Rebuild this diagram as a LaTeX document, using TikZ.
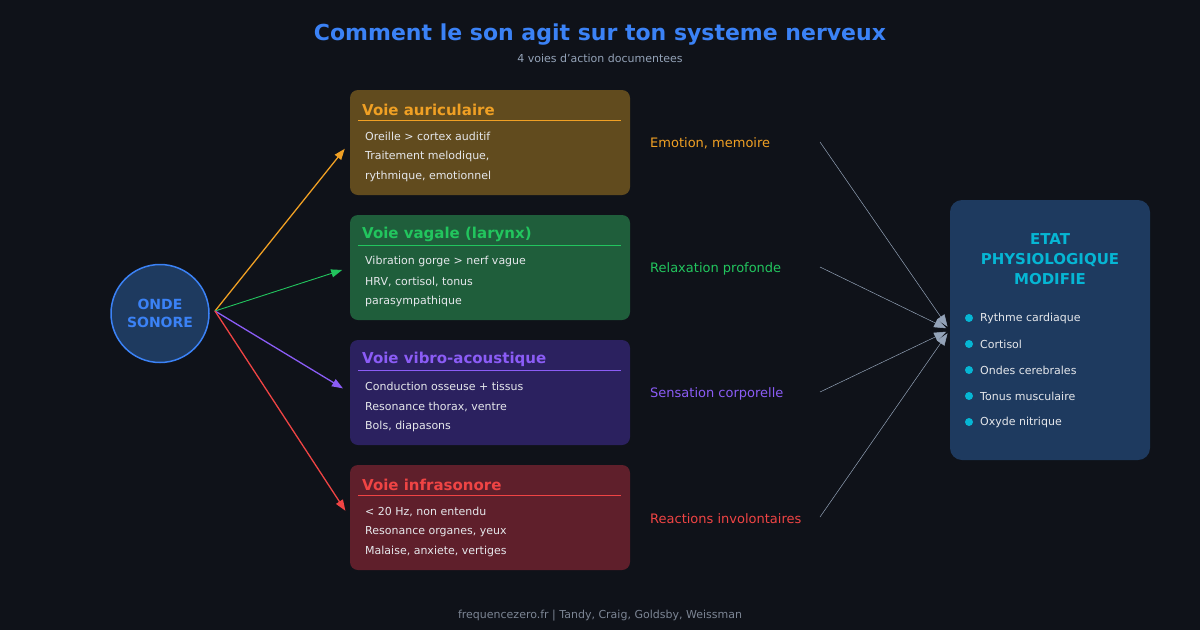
\documentclass[tikz,border=0pt]{standalone}
\usepackage{fontspec}
\setmainfont{DejaVu Sans}
\usetikzlibrary{arrows.meta}
\definecolor{bgdark}{HTML}{0F1219}
\definecolor{titleblue}{HTML}{3B82F6}
\definecolor{subgray}{HTML}{94A3B8}
\definecolor{footgray}{HTML}{7C8594}
\definecolor{wavefill}{HTML}{1E3A5F}
\definecolor{audcol}{HTML}{F0A024}
\definecolor{audfill}{HTML}{614B1E}
\definecolor{vagcol}{HTML}{22C55E}
\definecolor{vagfill}{HTML}{1F5E3B}
\definecolor{vibcol}{HTML}{8B5CF6}
\definecolor{vibfill}{HTML}{2B215F}
\definecolor{infcol}{HTML}{EF4444}
\definecolor{inffill}{HTML}{5F1F2B}
\definecolor{statecyan}{HTML}{06B6D4}
\definecolor{bodytext}{HTML}{E5E7EB}
\definecolor{linkgray}{HTML}{94A3B8}
\tikzset{pathbox/.style={rectangle,rounded corners=8pt,minimum width=280pt,minimum height=105pt,inner sep=0pt}}
\tikzset{pathtitle/.style={anchor=west,inner sep=0pt,font=\fontsize{15}{17}\selectfont\bfseries}}
\tikzset{pathline/.style={anchor=west,inner sep=0pt,text=bodytext,font=\fontsize{11}{13}\selectfont}}
\tikzset{effect/.style={anchor=west,inner sep=0pt,font=\fontsize{13}{15}\selectfont}}
\tikzset{wave/.style={-{Triangle[length=11pt,width=8pt]},shorten >=8pt}}
\tikzset{link/.style={linkgray,line width=0.5pt,-{Triangle[length=12pt,width=9pt]},shorten >=4pt}}
\tikzset{dot/.style={circle,fill=statecyan,minimum size=8pt,inner sep=0pt}}
\tikzset{item/.style={anchor=west,inner sep=0pt,text=bodytext,font=\fontsize{11}{13}\selectfont}}
\begin{document}
\begin{tikzpicture}[x=1pt,y=-1pt]
  \fill[bgdark] (0,0) rectangle (1200,630);
  \node[text=titleblue,font=\fontsize{22}{26}\selectfont\bfseries] (title) at (600,35) {Comment le son agit sur ton systeme nerveux};
  \node[text=subgray,font=\fontsize{11}{13}\selectfont] (subtitle) at (600,58) {4 voies d'action documentees};
  \node[circle,minimum size=98pt,fill=wavefill,draw=titleblue,line width=1.5pt,text=titleblue,align=center,font=\fontsize{14}{18}\selectfont\bfseries] (onde) at (160,313.5) {ONDE\\SONORE};
  \coordinate (src) at (215,311);
  \node[pathbox,fill=audfill] (aud) at (490,142.5) {};
  \node[pathbox,fill=vagfill] (vag) at (490,267.5) {};
  \node[pathbox,fill=vibfill] (vib) at (490,392.5) {};
  \node[pathbox,fill=inffill] (inf) at (490,517.5) {};
  \node[pathtitle,text=audcol] (audt) at (362,109.5) {Voie auriculaire};
  \draw[audcol] (358,120.5) -- (621,120.5);
  \node[pathline] (aud1) at (365,136.5) {Oreille > cortex auditif};
  \node[pathline] (aud2) at (365,156.5) {Traitement melodique,};
  \node[pathline] (aud3) at (365,176.5) {rythmique, emotionnel};
  \node[pathtitle,text=vagcol] (vagt) at (362,234.5) {Voie vagale (larynx)};
  \draw[vagcol] (358,245.5) -- (621,245.5);
  \node[pathline] (vag1) at (365,261.5) {Vibration gorge > nerf vague};
  \node[pathline] (vag2) at (365,281.5) {HRV, cortisol, tonus};
  \node[pathline] (vag3) at (365,301.5) {parasympathique};
  \node[pathtitle,text=vibcol] (vibt) at (362,359.5) {Voie vibro-acoustique};
  \draw[vibcol] (358,370.5) -- (621,370.5);
  \node[pathline] (vib1) at (365,386.5) {Conduction osseuse + tissus};
  \node[pathline] (vib2) at (365,406.5) {Resonance thorax, ventre};
  \node[pathline] (vib3) at (365,426.5) {Bols, diapasons};
  \node[pathtitle,text=infcol] (inft) at (362,484.5) {Voie infrasonore};
  \draw[infcol] (358,495.5) -- (621,495.5);
  \node[pathline] (inf1) at (365,511.5) {< 20 Hz, non entendu};
  \node[pathline] (inf2) at (365,531.5) {Resonance organes, yeux};
  \node[pathline] (inf3) at (365,551.5) {Malaise, anxiete, vertiges};
  \draw[wave,audcol,line width=1.3pt] (src) -- (aud.west);
  \draw[wave,vagcol,line width=0.9pt] (src) -- (vag.west);
  \draw[wave,vibcol,line width=1.3pt] (src) -- (vib.west);
  \draw[wave,infcol,line width=1.3pt] (src) -- (inf.west);
  \node[effect,text=audcol] (emo) at (650,143.5) {Emotion, memoire};
  \node[effect,text=vagcol] (rel) at (650,268.5) {Relaxation profonde};
  \node[effect,text=vibcol] (sen) at (650,393.5) {Sensation corporelle};
  \node[effect,text=infcol] (rea) at (650,518.5) {Reactions involontaires};
  \coordinate (emoend) at (820,142);
  \coordinate (relend) at (820,267);
  \coordinate (senend) at (820,392);
  \coordinate (reaend) at (820,517);
  \node[rectangle,rounded corners=12pt,fill=wavefill,minimum width=200pt,minimum height=260pt,inner sep=0pt] (etat) at (1050,330) {};
  \draw[link] (emoend) -- (etat.west);
  \draw[link] (relend) -- (etat.west);
  \draw[link] (senend) -- (etat.west);
  \draw[link] (reaend) -- (etat.west);
  \node[text=statecyan,align=center,font=\fontsize{15}{20}\selectfont\bfseries] (etatt) at (1050,259.5) {ETAT\\PHYSIOLOGIQUE\\MODIFIE};
  \node[dot] (d1) at (969,318) {};
  \node[item] (i1) at (980,318.5) {Rythme cardiaque};
  \node[dot] (d2) at (969,344) {};
  \node[item] (i2) at (980,344.5) {Cortisol};
  \node[dot] (d3) at (969,370) {};
  \node[item] (i3) at (980,370.5) {Ondes cerebrales};
  \node[dot] (d4) at (969,396) {};
  \node[item] (i4) at (980,396.5) {Tonus musculaire};
  \node[dot] (d5) at (969,422) {};
  \node[item] (i5) at (980,422.5) {Oxyde nitrique};
  \node[text=footgray,font=\fontsize{11}{13}\selectfont] (foot) at (600,616) {frequencezero.fr | Tandy, Craig, Goldsby, Weissman};
\end{tikzpicture}
\end{document}
